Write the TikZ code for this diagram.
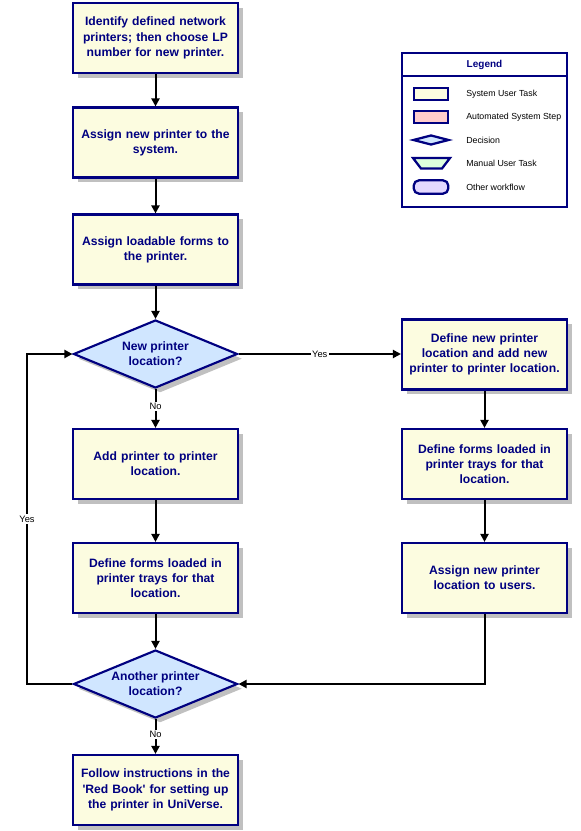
\documentclass[tikz,border=0pt]{standalone}
\usepackage{fontspec}
\setmainfont{Liberation Sans}[Ligatures=TeXOff]
\usetikzlibrary{shapes,shadows,arrows.meta}

\tikzset{
  task/.style={draw=navy,line width=1.6pt,fill=taskyellow,minimum width=123.75pt,minimum height=52.5pt,
    text width=120pt,align=center,inner sep=0pt,text=navy,font=\fontsize{9.1}{11.4}\selectfont\bfseries,
    drop shadow={shadow xshift=3.5pt,shadow yshift=-3.5pt,fill=shadowgray,opacity=1}},
  decision/.style={diamond,aspect=2.4,draw=navy,line width=1.6pt,fill=decblue,minimum width=123pt,minimum height=51pt,
    inner sep=0pt,align=center,text=navy,font=\fontsize{9.1}{11.4}\selectfont\bfseries,
    drop shadow={shadow xshift=3.5pt,shadow yshift=-3.5pt,fill=shadowgray,opacity=1}},
  flow/.style={line width=1.5pt,-{Triangle[length=6pt,width=6pt]}},
  lbl/.style={fill=white,inner sep=1pt,font=\fontsize{7}{8}\selectfont},
  keyicon/.style={draw=navy,line width=1.7pt,inner sep=0pt,minimum width=26pt,minimum height=8.5pt},
  keytext/.style={anchor=west,inner sep=0pt,font=\fontsize{6.6}{7.5}\selectfont}
}

\begin{document}
\begin{tikzpicture}[x=0.75pt,y=-0.75pt]
					\definecolor{navy}{HTML}{000080}
					\definecolor{taskyellow}{HTML}{FCFCE0}
					\definecolor{decblue}{HTML}{D0E6FF}
					\definecolor{shadowgray}{HTML}{C0C0C0}
					\definecolor{autopink}{HTML}{FFCCCC}
					\definecolor{manualgreen}{HTML}{DDFFDD}
					\definecolor{otherlilac}{HTML}{E4D8FF}
					\useasboundingbox (0,0) rectangle (581,831);

					% left column
					\node[task] (identify) at (155.5,38) {Identify defined network\\printers; then choose LP\\number for new printer.};
					\node[task] (assign) at (155.5,142.5) {Assign new printer to the\\system.};
					\node[task] (forms) at (155.5,249.5) {Assign loadable forms to\\the printer.};
					\node[decision] (newloc) at (155.5,354) {New printer\\location?};
					\node[task] (addprinter) at (155.5,464) {Add printer to printer\\location.};
					\node[task] (trays) at (155.5,578) {Define forms loaded in\\printer trays for that\\location.};
					\node[decision] (another) at (155.5,684) {Another printer\\location?};
					\node[task] (redbook) at (155.5,790) {Follow instructions in the\\'Red Book' for setting up\\the printer in UniVerse.};

					% right column
					\node[task] (defineloc) at (484.5,354.5) {Define new printer\\location and add new\\printer to printer location.};
					\node[task] (newtrays) at (484.5,464) {Define forms loaded in\\printer trays for that\\location.};
					\node[task] (users) at (484.5,578) {Assign new printer\\location to users.};

					\coordinate (loopside) at (27,519);

					\draw[flow] (identify) -- (assign);
					\draw[flow] (assign) -- (forms);
					\draw[flow] (forms) -- (newloc);
					\draw[flow] (newloc) -- node[lbl,pos=0.45] {No} (addprinter);
					\draw[flow] (addprinter) -- (trays);
					\draw[flow] (trays) -- (another);
					\draw[flow] (another) -- node[lbl,pos=0.45] {No} (redbook);
					\draw[flow] (newloc.east) -- node[lbl,pos=0.5] {Yes} (newloc.east -| defineloc.west);
					\draw[flow] (defineloc) -- (newtrays);
					\draw[flow] (newtrays) -- (users);
					\draw[flow] (users.south) -- (users.south |- another.east) -- (another.east);
					\draw[flow] (another.west) -- (another.west -| loopside) -- (newloc.west -| loopside) -- (newloc.west);
					\node[lbl] (yesloop) at (loopside) {Yes};

					% legend
					\draw[navy,line width=1.7pt] (402,53) rectangle (567,207);
					\draw[navy,line width=1.7pt] (402,76) -- (567,76);
					\node[text=navy,font=\fontsize{7.5}{9}\selectfont\bfseries] (legendtitle) at (484.5,64.5) {Legend};
					\node[keyicon,fill=taskyellow] (keytask) at (431,94) {};
					\node[keyicon,fill=autopink] (keyauto) at (431,117) {};
					\node[keyicon,diamond,aspect=4,fill=decblue,minimum width=27pt,minimum height=7.5pt] (keydec) at (431,140) {};
					\draw[navy,line width=1.7pt,fill=manualgreen] (413,158) -- (450,158) -- (442,168.5) -- (421,168.5) -- cycle;
					\node[keyicon,fill=otherlilac,rounded corners=4pt,minimum height=10pt] (keyother) at (431,187) {};
					\node[keytext] at (466,94) {System User Task};
					\node[keytext] at (466,117) {Automated System Step};
					\node[keytext] at (466,140) {Decision};
					\node[keytext] at (466,163) {Manual User Task};
					\node[keytext] at (466,187) {Other workflow};
				\end{tikzpicture}
\end{document}
